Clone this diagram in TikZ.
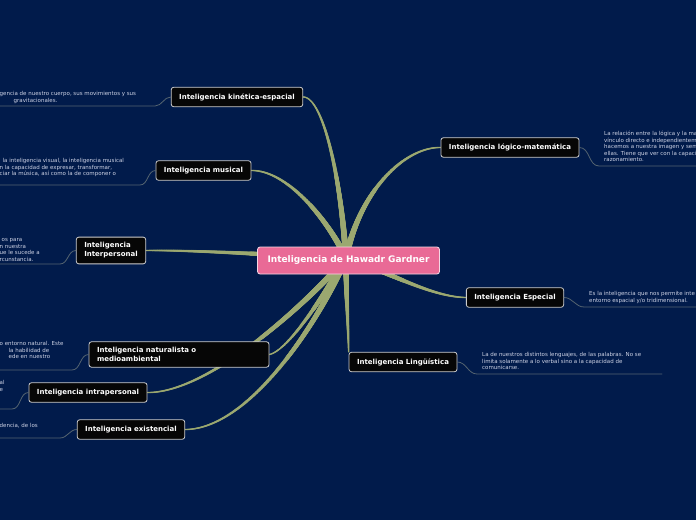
\documentclass[tikz,border=0pt]{standalone}
\usepackage{fontspec}
\setmainfont{DejaVu Sans}
\usetikzlibrary{decorations.markings}

\definecolor{bgblue}{RGB}{1,27,75}
\definecolor{hubpink}{RGB}{233,106,150}
\definecolor{limbgreen}{RGB}{155,168,112}
\definecolor{twiggrey}{RGB}{85,100,112}
\definecolor{notegrey}{RGB}{205,210,228}
\definecolor{boxedge}{RGB}{205,205,205}

\pgfdeclarelayer{backdrop}
\pgfdeclarelayer{limbs}
\pgfsetlayers{backdrop,limbs,main}

% tapered branch from a leaf to the hub
\newcommand{\limb}[3]{%
  \path[limb] (#1) .. controls (#2) and (#3) .. (hub);}

\begin{document}
\begin{tikzpicture}[x=1pt, y=-1pt, line join=round, line cap=round,
    limb/.style={postaction={decorate}, decoration={markings,
        mark=between positions 0 and 1 step 0.4pt with {\fill[limbgreen] (0,0) circle ({0.7pt+2.5pt*\pgfkeysvalueof{/pgf/decoration/mark info/distance from start}/\pgfdecoratedpathlength});}}},
    hubbox/.style={draw={rgb,255:red,245;green,215;blue,228}, line width=0.8pt, fill=hubpink, rounded corners=2.5pt,
        text=white, font=\fontsize{9}{11}\selectfont\bfseries, inner xsep=10pt, minimum height=27pt},
    leaf/.style={draw=boxedge, line width=0.8pt, fill={rgb,255:red,6;green,6;blue,6}, rounded corners=2.5pt,
        text=white, font=\fontsize{7}{9}\selectfont\bfseries, inner xsep=8pt, inner ysep=5.5pt, minimum height=19.5pt},
    note/.style={anchor=north west, inner sep=0pt, align=left, text=notegrey,
        font=\fontsize{5.5}{6.5}\selectfont},
    twig/.style={draw=twiggrey, line width=0.8pt}]

  \useasboundingbox (0,0) rectangle (696,520);
  \begin{pgfonlayer}{backdrop}
    \fill[bgblue] (0,0) rectangle (696,520);
  \end{pgfonlayer}
  \clip (0,0) rectangle (696,520);

  \coordinate (hub) at (346,258);

  % leaves
  \node[hubbox] (ctr) at (348.5,260.5) {Inteligencia de Hawadr Gardner};
  \node[leaf] (kin) at (237,97) {Inteligencia kinética-espacial};
  \node[leaf] (mus) at (203.5,170.5) {Inteligencia musical};
  \node[leaf, align=left] (inter) at (111,250.5) {Inteligencia\\Interpersonal};
  \node[leaf, text width=164pt, align=left] (nat) at (179,354.5) {Inteligencia naturalista o\\medioambiental};
  \node[leaf] (intra) at (88,392.5) {Inteligencia intrapersonal};
  \node[leaf] (exi) at (131,429.5) {Inteligencia existencial};
  \node[leaf] (logm) at (510,147.5) {Inteligencia lógico-matemática};
  \node[leaf] (esp) at (515,297.5) {Inteligencia Especial};
  \node[leaf] (ling) at (403,362) {Inteligencia Lingüística};

  % branches
  \begin{pgfonlayer}{limbs}
    \limb{kin.east}{322,97}{340,170}
    \limb{mus.east}{285,170}{325,215}
    \limb{inter.east}{200,250}{290,256}
    \limb{nat.east}{290,350}{330,285}
    \limb{intra.east}{210,393}{310,300}
    \limb{exi.east}{250,429}{320,320}
    \limb{logm.west}{405,147}{360,190}
    \limb{esp.west}{430,297}{385,270}
    \limb{ling.north west}{348,320}{346,290}
  \end{pgfonlayer}

  % notes
  \node[note] (kinnote) at (-0.5,91) {\strut gencia de nuestro cuerpo, sus movimientos y sus\\\hspace*{14pt}gravitacionales.};
  \node[note] (musnote) at (-0.5,158) {\strut\hspace*{3pt}la inteligencia visual, la inteligencia musical\\n la capacidad de expresar, transformar,\\ciar la música, así como la de componer o};
  \node[note] (internote) at (-0.5,237) {\strut\hspace*{2pt}os para\\n nuestra\\ue le sucede a\\rcunstancia.};
  \node[note] (natnote) at (-0.5,341) {\strut o entorno natural. Este\\\hspace*{9pt}la habilidad de\\\hspace*{9pt}ede en nuestro};
  \node[note] (intranote) at (-0.5,380) {\strut al\\e};
  \node[note] (exinote) at (-0.5,423) {\strut dencia, de los};
  \node[note] (logmnote) at (604,131) {\strut La relación entre la lógica y la ma\\vínculo directo e independientem\\hacemos a nuestra imagen y sem\\ellas. Tiene que ver con la capaci\\razonamiento.};
  \node[note] (espnote) at (589,291) {\strut Es la inteligencia que nos permite inte\\entorno espacial y/o tridimensional.};
  \node[note] (lingnote) at (482,352) {\strut La de nuestros distintos lenguajes, de las palabras. No se\\limita solamente a lo verbal sino a la capacidad de\\comunicarse.};

  % twigs to the notes
  \coordinate (kinbend) at (155,106);   \coordinate (kinend) at (-2,106);
  \coordinate (musbend) at (140,185);   \coordinate (musend) at (-2,185);
  \coordinate (interbend) at (60,264);  \coordinate (interend) at (-2,264);
  \coordinate (natbend) at (72,370);    \coordinate (natend) at (-2,370);
  \coordinate (intrabend) at (12,409);  \coordinate (intraend) at (-2,409);
  \coordinate (exibend) at (60,438);    \coordinate (exiend) at (-2,438);
  \coordinate (logmbend) at (599,166);  \coordinate (logmend) at (700,166);
  \coordinate (espbend) at (584,307);   \coordinate (espend) at (700,307);
  \coordinate (lingbend) at (477,374);  \coordinate (lingend) at (662,374);

  \draw[twig] (kin.west) to[out=180,in=0] (kinbend) -- (kinend);
  \draw[twig] (mus.west) to[out=180,in=0] (musbend) -- (musend);
  \draw[twig] (inter.west) to[out=180,in=0] (interbend) -- (interend);
  \draw[twig] (nat.west) to[out=180,in=0] (natbend) -- (natend);
  \draw[twig] (intra.west) to[out=180,in=0] (intrabend) -- (intraend);
  \draw[twig] (exi.west) to[out=180,in=0] (exibend) -- (exiend);
  \draw[twig] (logm.east) to[out=0,in=180] (logmbend) -- (logmend);
  \draw[twig] (esp.east) to[out=0,in=180] (espbend) -- (espend);
  \draw[twig] (ling.east) to[out=0,in=180] (lingbend) -- (lingend);
\end{tikzpicture}
\end{document}
